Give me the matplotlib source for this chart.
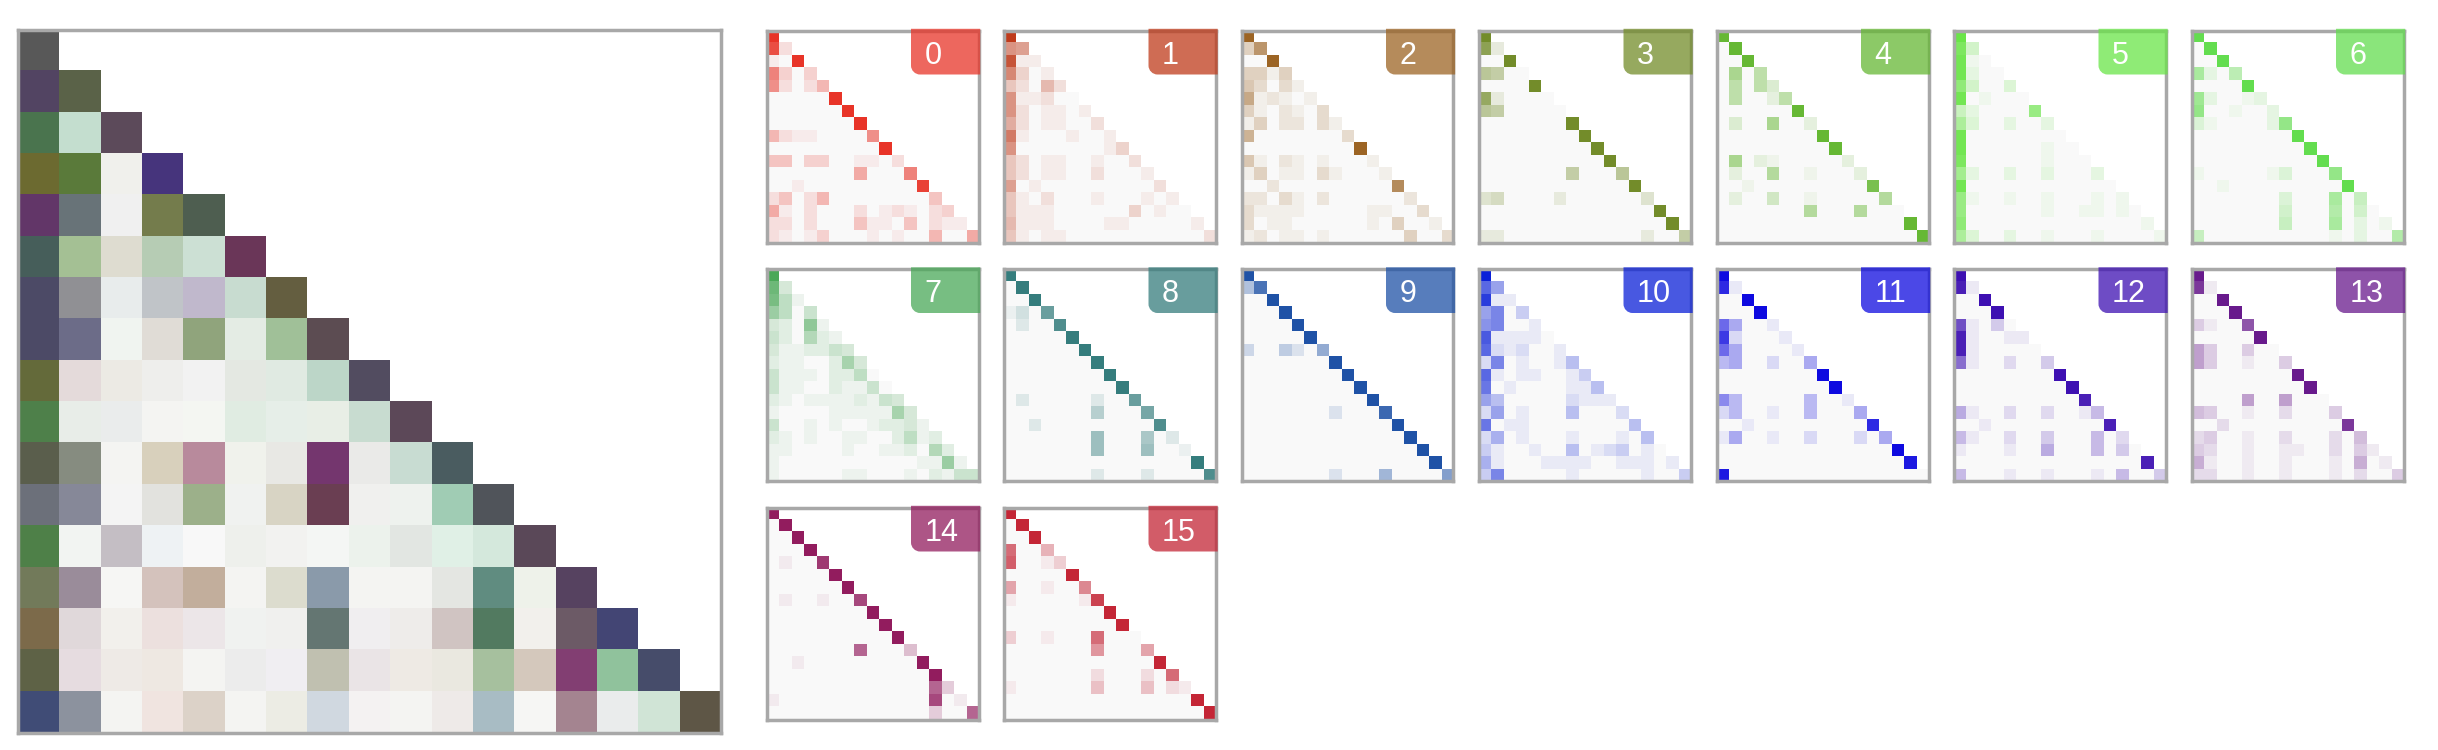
import numpy as np
import matplotlib
matplotlib.use('Agg')
import matplotlib.pyplot as plt
from matplotlib.colors import to_rgb
from matplotlib.path import Path
from matplotlib.patches import PathPatch

N_TOKENS = 17

# full-strength colour of each head
HEAD_COLORS = ['#e83428', '#bf3b1b', '#9c6424', '#738c2a', '#66b834', '#6ae548',
               '#63dd4f', '#4aa858', '#357d7d', '#1f52a6', '#0a20d8', '#0e0ae0',
               '#3e10b2', '#681a8c', '#921c5e', '#c42636']

# attention per head, one string per query row, hex digit = weight * 15
HEAD_0 = ["F", "D2", "10F", "9303", "82025", "00000F", "000000F", "0000000F",
          "521100008", "000000000F", "44033001102", "000000060009",
          "001000000000E", "24025000000004", "610200020121023",
          "2202000411040211", "21013000101005006"]
HEAD_1 = ["F", "87", "D11", "9301", "42052", "811200", "8201101", "62011002",
          "A10001001", "8000000013", "42011001002", "420110020001",
          "7010000000002", "41020001000101", "411100000030100",
          "5111000011000001", "41011000000000002"]
HEAD_2 = ["F", "4A", "00F", "4414", "53031", "812101", "4102103", "14022031",
          "700000003", "000000000F", "51021010001", "140110310001",
          "002000000000B", "22031020000002", "311110000011003",
          "3011000000104001", "12011010000004003"]
HEAD_3 = ["F", "C2", "00F", "7600", "0000F", "B20000", "7600000", "0000000F",
          "00000000F", "000000000F", "0000000000F", "000000060007",
          "000000000000F", "34000020000003", "00000000000000F",
          "000000000000000F", "22000000000002006"]
HEAD_4 = ["F", "0F", "00F", "0806", "06063", "060026", "000000F", "03008002",
          "00000000F", "000000000F", "08021000002", "020070010002",
          "001000000000D", "02004001000007", "000000070007000",
          "000000000000000F", "0000000000000000F"]
HEAD_5 = ["F", "D4", "E10", "E200", "B4003", "E01000", "520000A", "83002002",
          "E00000000", "E000000100", "D0000001000", "920020020002",
          "E000000000000", "A1001001000101", "A00000010011010",
          "B000000000000001", "83002001000100001"]
HEAD_6 = ["F", "0F", "00F", "8206", "0000F", "920012", "A001002", "3100002A",
          "00000000F", "000000000F", "0000000000F", "10000013000A",
          "001000000000F", "00000003000805", "000000040007040",
          "0000000500080201", "50000000000102007"]
HEAD_7 = ["F", "C3", "B51", "8504", "32091", "420621", "3112243", "21100273",
          "411102250", "4110021140", "21011112143", "100001111173",
          "4001010012231", "21010011002512", "110000100112062",
          "1000000000001181", "10000011000102144"]
HEAD_8 = ["F", "0F", "00F", "130B", "0200D", "00000F", "000000F", "0000000F",
          "00000000F", "000000000F", "0200000200B", "00000005000A",
          "002000000000D", "00000007000602", "000000070007001",
          "000000000000000F", "0000000200020000D"]
HEAD_9 = ["F", "5C", "00F", "000F", "0000F", "00000F", "3004207", "0000000F",
          "00000000F", "000000000F", "0000000000F", "00000002000D",
          "000000000000F", "0000000000000F", "00000000000000F",
          "000000000000000F", "00000002000600008"]
HEAD_10 = ["F", "A6", "D11", "6803", "78001", "B11110", "A212001", "28010014",
           "A10110013", "9010000114", "64000002111", "260100040002",
           "9011000000004", "25010001000104", "310010040123010",
           "5100011110011101", "38000001000001003"]
HEAD_11 = ["F", "D1", "00F", "000F", "95001", "C20001", "9500001", "45002005",
           "00000000F", "000000000F", "74000004001", "240010040005",
           "001000000000D", "15001002000205", "00000000000000F",
           "000000000000000E", "E0000000000000000"]
HEAD_12 = ["F", "E1", "00F", "000F", "B1030", "E10011", "E100000", "91002003",
           "00000000F", "000000000F", "0000000000E", "510020020014",
           "001000000000E", "41002003000402", "100010050004030",
           "000000000000000E", "40001001000104003"]
HEAD_13 = ["F", "D1", "00F", "000F", "3100B", "00000F", "6300300", "63001003",
           "00000000F", "000000000F", "00006006000", "430010020003",
           "002000000000D", "23001002000204", "320010011002031",
           "5100100100010501", "22001001000102003"]
HEAD_14 = ["F", "0F", "00F", "000F", "0100D", "00000F", "000000F", "0100100C",
           "00000000F", "000000000F", "0000000000F", "0000000A0004",
           "001000000000F", "0000000000000F", "0000000000000A3",
           "1000000000000C01", "0000000000000300A"]
HEAD_15 = ["F", "0F", "00F", "A005", "B0013", "00000F", "6001008", "1000001D",
           "00000000F", "000000000F", "3001000A000", "000000070006",
           "000000000000F", "0000000200020A", "100000040004021",
           "000000000000000F", "0000000000000000F"]

HEADS = [HEAD_0, HEAD_1, HEAD_2, HEAD_3, HEAD_4, HEAD_5, HEAD_6, HEAD_7,
         HEAD_8, HEAD_9, HEAD_10, HEAD_11, HEAD_12, HEAD_13, HEAD_14, HEAD_15]

# mixed colour of all heads, lower triangle only
COMBINED = [
    ['585858'],
    ['524462', '5a6248'],
    ['4a744e', 'c4decf', '5c4a5a'],
    ['6c6a30', '5a7a3a', 'f0f0ec', '46347c'],
    ['623668', '687378', 'f0f0f0', '747c4c', '4e5e50'],
    ['465e5a', 'a4c094', 'dedcd0', 'b6ccb4', 'cce0d4', '6a3658'],
    ['4c4a66', '909094', 'e8ecec', 'c0c4c8', 'c0b8cc', 'c8dcd0', '645e40'],
    ['4c4a66', '6c6c88', 'f0f4f0', 'e0dcd6', '90a47c', 'e4ece4', 'a0c098', '5c4c52'],
    ['646a3a', 'e4dada', 'eceae4', 'eeeeec', 'f2f2f2', 'e4e8e2', 'e0eae2', 'bcd6c8',
     '524c60'],
    ['4e804a', 'e8ede8', 'eaecec', 'f4f4f2', 'f4f6f2', 'e0ece2', 'e6eee8', 'e8eee6',
     'c8dcd0', '5c4858'],
    ['5a5e4c', '868c80', 'f4f4f2', 'd8d0bc', 'b88a9c', 'f0f2ec', 'e8e8e4', '74366e',
     'eaeae8', 'c8dcd2', '4a5c60'],
    ['6c707a', '868898', 'f4f4f4', 'e2e2de', '9cb08a', 'f0f2f0', 'd8d4c4', '6a3e52',
     'f0f0ee', 'eef2ee', 'a0ccb4', '50545a'],
    ['4e8048', 'f2f4f2', 'c4bec4', 'eef2f4', 'f8f8f8', 'eef0ec', 'f2f2f0', 'f4f6f4',
     'ecf2ec', 'e2e6e2', 'e0f0e6', 'd4e8dc', '5a4858'],
    ['727a5a', '9a8c9a', 'f6f6f4', 'd4c2bc', 'c2ae9c', 'f4f4f2', 'dcdcce', '8a9aaa',
     'f4f4f2', 'f4f4f2', 'e4e6e2', '608c80', 'eef2ea', '564260'],
    ['7c6a4a', 'e0d8da', 'f2f0ec', 'ece0de', 'ece6e8', 'f0f2f0', 'f0f0ee', '647672',
     'f0eef0', 'eeecea', 'd0c4c2', '527a60', 'f2f0ec', '6c5a66', '434574'],
    ['5e6246', 'e6dce0', 'eeeae6', 'eee8e2', 'f4f4f2', 'ececec', 'f0eef2', 'c0c0b0',
     'eae4e6', 'eeeae4', 'eae8e0', 'a6c09e', 'd4c8bc', '823e72', '90c29c', '464c6a'],
    ['404c76', '8c929e', 'f4f4f2', 'f0e4e0', 'dcd2c8', 'f4f4f2', 'ecece4', 'd0d8e0',
     'f4f2f2', 'f4f4f2', 'eeeae8', 'a8bcc4', 'f6f6f4', 'a48490', 'eaecec', 'd0e4d6',
     '5e5646'],
]

W, H = 2438, 750
BASE = np.array([249, 249, 249]) / 255.0
FRAME = '#a8a8a8'


def px_axes(fig, left, top, size):
    ax = fig.add_axes([left / W, (H - top - size) / H, size / W, size / H])
    ax.set_xticks([])
    ax.set_yticks([])
    for s in ax.spines.values():
        s.set_color(FRAME)
        s.set_linewidth(2.5)
    return ax


def head_image(rows, color):
    rgb = np.array(to_rgb(color))
    img = np.ones((N_TOKENS, N_TOKENS, 3))
    for i, row in enumerate(rows):
        for j, ch in enumerate(row):
            v = int(ch, 16) / 15.0
            img[i, j] = BASE * (1 - v) + rgb * v
    return img


def combined_image(rows):
    img = np.ones((N_TOKENS, N_TOKENS, 3))
    for i, row in enumerate(rows):
        for j, hx in enumerate(row):
            img[i, j] = to_rgb('#' + hx)
    return img


def badge(ax, label, color, size):
    # label box in the top right corner, bottom-left corner rounded
    x0, x1 = 1 - 67.5 / size, 1 + 1.7 / size
    y0, y1 = 1 - 44 / size, 1 + 1.7 / size
    r = 9 / size
    k = 0.45
    verts = [(x1, y1), (x0, y1), (x0, y0 + r),
             (x0, y0 + r * k), (x0 + r * k, y0), (x0 + r, y0),
             (x1, y0), (x1, y1)]
    codes = [Path.MOVETO, Path.LINETO, Path.LINETO,
             Path.CURVE4, Path.CURVE4, Path.CURVE4,
             Path.LINETO, Path.CLOSEPOLY]
    patch = PathPatch(Path(verts, codes), transform=ax.transAxes,
                      facecolor=color, alpha=0.75, edgecolor='none',
                      clip_on=False, zorder=5)
    ax.add_patch(patch)
    ax.text(x0 + 13.5 / size, 1 - 33.5 / size, label,
            transform=ax.transAxes, color='white', fontsize=22,
            family=['Liberation Sans', 'DejaVu Sans'],
            ha='left', va='baseline', zorder=6)


fig = plt.figure(figsize=(W / 100, H / 100), dpi=100)

ax = px_axes(fig, 17.5, 29.5, 703)
ax.imshow(combined_image(COMBINED), interpolation='nearest',
          extent=(0, N_TOKENS, N_TOKENS, 0), aspect='auto')

for h, rows in enumerate(HEADS):
    r, c = divmod(h, 7)
    size = 212
    ax = px_axes(fig, 766.5 + 237.5 * c, 30.5 + 238.5 * r, size)
    ax.imshow(head_image(rows, HEAD_COLORS[h]), interpolation='nearest',
              extent=(0, N_TOKENS, N_TOKENS, 0), aspect='auto')
    badge(ax, str(h), HEAD_COLORS[h], size)

fig.savefig('out.png', dpi=100)
